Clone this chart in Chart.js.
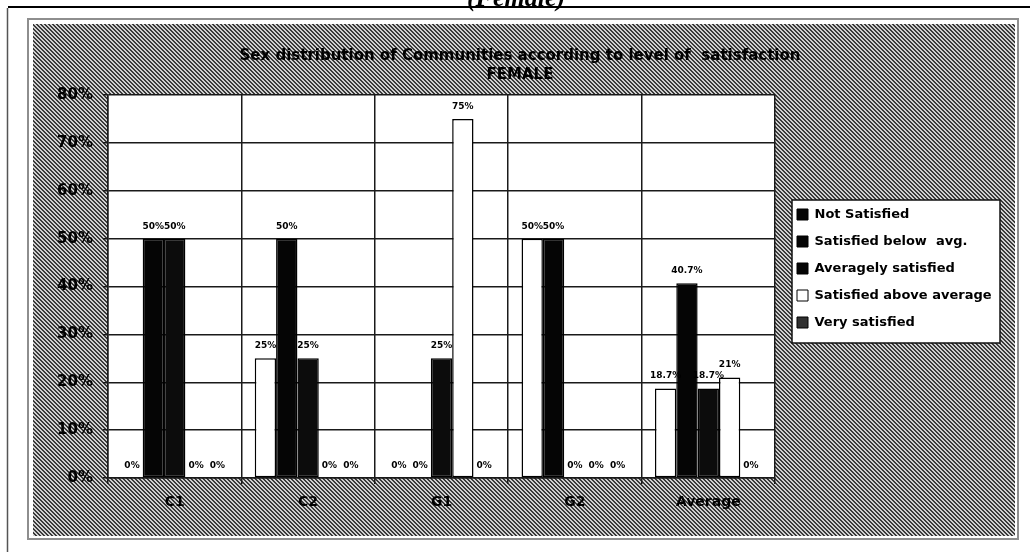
<!DOCTYPE html>
<html>
<head>
<meta charset="utf-8">
<script src="https://cdn.jsdelivr.net/npm/chart.js@4.4.1/dist/chart.umd.min.js"></script>
<style>
  html, body { margin: 0; padding: 0; background: #fff; overflow: hidden; }
  canvas { display: block; }
</style>
</head>
<body>
<canvas id="chart" width="1030" height="552"></canvas>
<script>
// Share of female respondents per community, by level of satisfaction (%)
const categories = ['C1', 'C2', 'G1', 'G2', 'Average'];
const notSatisfied       = [0, 25, 0, 50, 18.7];
const belowAverage       = [50, 50, 0, 50, 40.7];
const averagelySatisfied = [50, 25, 25, 0, 18.7];
const aboveAverage       = [0, 0, 75, 0, 21];
const verySatisfied      = [0, 0, 0, 0, 0];
const seriesLabels = ['Not Satisfied', 'Satisfied below  avg.', 'Averagely satisfied', 'Satisfied above average', 'Very satisfied'];
const yTickValues = [0, 10, 20, 30, 40, 50, 60, 70, 80];
const chartTitle = ['Sex distribution of Communities according to level of  satisfaction', 'FEMALE'];
const pageHeading = '(Female)';

const FONT = '"DejaVu Sans", "Liberation Sans", sans-serif';
const barFill    = ['#ffffff', '#050505', '#0c0c0c', '#ffffff', '#262626'];
const swatchFill = ['#050505', '#050505', '#050505', '#ffffff', '#303030'];
const LEGEND_PAD = 14;
const LEGEND_FONT = 13;

function hatchPattern(ctx) {
  const tile = document.createElement('canvas');
  tile.width = 4; tile.height = 4;
  const t = tile.getContext('2d');
  t.fillStyle = '#d0d0d0';
  t.fillRect(0, 0, 4, 4);
  t.fillStyle = '#3a3a3a';
  for (let i = 0; i < 4; i++) {
    t.fillRect(i, i, 1, 1);
    t.fillRect((i + 1) % 4, i, 1, 1);
  }
  return ctx.createPattern(tile, 'repeat');
}

// page rule, heading, hatched chart frame, white plot area and legend panel
const framePlugin = {
  id: 'frame',
  beforeDraw(chart) {
    const { ctx, width, height, chartArea: a, legend: lg } = chart;
    ctx.save();
    ctx.fillStyle = '#fff';
    ctx.fillRect(0, 0, width, height);

    ctx.strokeStyle = '#000';
    ctx.lineWidth = 2;
    ctx.beginPath(); ctx.moveTo(8, 7); ctx.lineTo(width, 7); ctx.stroke();
    ctx.font = 'italic bold 26px "Liberation Serif", serif';
    ctx.textAlign = 'center';
    ctx.textBaseline = 'alphabetic';
    ctx.fillStyle = '#000';
    ctx.fillText(pageHeading, 516, 6);

    ctx.strokeStyle = '#555';
    ctx.lineWidth = 1.5;
    ctx.beginPath(); ctx.moveTo(7.5, 8); ctx.lineTo(7.5, height); ctx.stroke();

    ctx.strokeStyle = '#8e8e8e';
    ctx.lineWidth = 2;
    ctx.strokeRect(28, 19, 990, 520);
    ctx.fillStyle = hatchPattern(ctx);
    ctx.fillRect(33, 24, 982, 512);

    ctx.fillStyle = '#fff';
    ctx.fillRect(a.left, a.top, a.right - a.left, a.bottom - a.top);

    const n = chart.data.datasets.length;
    const colH = n * (LEGEND_FONT + LEGEND_PAD);
    const y0 = ((lg.top + LEGEND_PAD) + (lg.bottom - colH)) / 2;
    const bx = lg.left + LEGEND_PAD - 5;
    ctx.fillStyle = '#fff';
    ctx.fillRect(bx, y0 - 8, 208, colH + 8);
    ctx.strokeStyle = '#111';
    ctx.lineWidth = 1.5;
    ctx.strokeRect(bx, y0 - 8, 208, colH + 8);
    ctx.restore();
  }
};

// fixed-width legend column to the right of the plot
const legendColumn = {
  id: 'legendColumn',
  afterInit(chart) {
    const legend = chart.legend;
    const fit = legend.fit.bind(legend);
    legend.fit = () => { fit(); legend.width = 232; };
  },
  afterLayout(chart) {
    const lg = chart.legend;
    lg.left += 8;
    lg.top -= 12;
    lg.bottom -= 12;
  }
};

// percentage printed above every bar
const valueLabels = {
  id: 'valueLabels',
  afterDatasetsDraw(chart) {
    const { ctx } = chart;
    ctx.save();
    ctx.font = `bold 9px ${FONT}`;
    ctx.fillStyle = '#000';
    ctx.textAlign = 'center';
    ctx.textBaseline = 'alphabetic';
    chart.data.datasets.forEach((ds, i) => {
      chart.getDatasetMeta(i).data.forEach((bar, j) => {
        ctx.fillText(ds.data[j] + '%', bar.x, bar.y - 10);
      });
    });
    ctx.restore();
  }
};

const seriesData = [notSatisfied, belowAverage, averagelySatisfied, aboveAverage, verySatisfied];

new Chart(document.getElementById('chart'), {
  type: 'bar',
  data: {
    labels: categories,
    datasets: seriesData.map((values, i) => ({
      label: seriesLabels[i],
      data: values,
      backgroundColor: barFill[i],
      borderColor: '#000',
      borderWidth: 1.5,
      borderSkipped: false
    }))
  },
  options: {
    responsive: false,
    animation: false,
    devicePixelRatio: 1,
    layout: { padding: { top: 25, left: 33, right: 23, bottom: 16 } },
    datasets: { bar: { categoryPercentage: 0.8, barPercentage: 1 } },
    scales: {
      x: {
        grid: { color: '#1a1a1a', lineWidth: 1.5, offset: true, tickLength: 6 },
        border: { color: '#1a1a1a', width: 1.5 },
        ticks: { color: '#000', padding: 10, font: { family: FONT, size: 14, weight: 'bold' } },
        afterFit(scale) { scale.height = 58; }
      },
      y: {
        min: 0,
        max: 80,
        afterBuildTicks(scale) { scale.ticks = yTickValues.map(v => ({ value: v })); },
        grid: { color: '#1a1a1a', lineWidth: 1.5, tickLength: 5 },
        border: { color: '#1a1a1a', width: 1.5 },
        ticks: {
          color: '#000',
          padding: 10,
          font: { family: FONT, size: 15, weight: 'bold' },
          callback: v => v + '%'
        },
        afterFit(scale) { scale.width = 75; }
      }
    },
    plugins: {
      title: {
        display: true,
        text: chartTitle,
        color: '#000',
        font: { family: FONT, size: 15, weight: 'bold', lineHeight: '19px' },
        padding: { top: 22, bottom: 10 }
      },
      legend: {
        position: 'right',
        align: 'center',
        labels: {
          color: '#000',
          boxWidth: 11,
          boxHeight: 11,
          padding: LEGEND_PAD,
          font: { family: FONT, size: LEGEND_FONT, weight: 'bold' },
          generateLabels(chart) {
            const items = Chart.defaults.plugins.legend.labels.generateLabels(chart);
            items.forEach((item, i) => {
              item.fillStyle = swatchFill[i];
              item.strokeStyle = '#000';
              item.lineWidth = 1;
            });
            return items;
          }
        }
      },
      tooltip: { enabled: false }
    }
  },
  plugins: [framePlugin, legendColumn, valueLabels]
});
</script>
</body>
</html>
